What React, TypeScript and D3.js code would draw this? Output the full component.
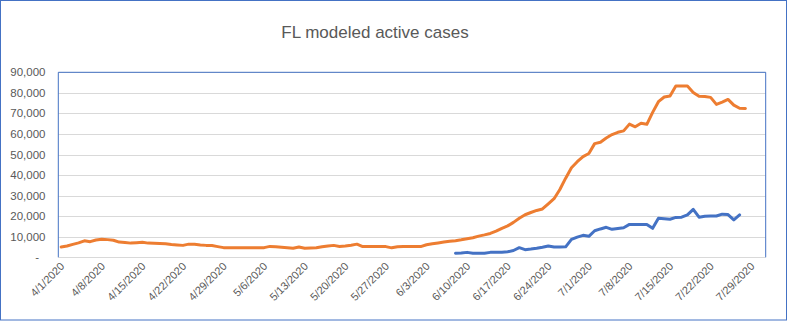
import React from "react";
import * as d3 from "d3";

const W = 788;
const H = 321;

const title = "FL modeled active cases";
const seriesStart = "4/1/2020";
const blueStart = "6/8/2020";

// Orange series: daily values from 4/1/2020
const orangeValues = [
  5000, 5500, 6300, 7000, 8000, 7600, 8400, 8800, 8600, 8300,
  7400, 7200, 6900, 7100, 7300, 6900, 6800, 6700, 6600, 6200,
  6000, 5800, 6400, 6300, 6000, 5800, 5700, 5200, 4700, 4700,
  4700, 4700, 4700, 4700, 4700, 4700, 5300, 5100, 4900, 4700,
  4400, 5000, 4400, 4500, 4600, 5100, 5500, 5800, 5300, 5500,
  5900, 6400, 5200, 5200, 5200, 5200, 5200, 4600, 5100, 5200,
  5200, 5200, 5200, 6100, 6600, 7000, 7400, 7800, 8100, 8500,
  9000, 9500, 10300, 10900, 11600, 12700, 14100, 15300, 17000, 19000,
  20700, 21800, 22800, 23500, 26000, 28500, 33000, 38500, 43600, 46500,
  49000, 50500, 55300, 56000, 58000, 59700, 60800, 61500, 64800, 63500,
  65200, 64700, 70500, 75700, 78000, 78500, 83300, 83300, 83300, 80200,
  78400, 78200, 77800, 74400, 75500, 76800, 74000, 72500, 72400,
];

// Blue series: daily values from 6/8/2020
const blueValues = [
  2000, 2100, 2400, 2000, 2000, 2000, 2400, 2400, 2500, 2700,
  3300, 4700, 3700, 4000, 4400, 4900, 5500, 5000, 5000, 5100,
  8700, 9800, 10700, 10200, 12900, 13800, 14600, 13600, 14000, 14400,
  16000, 16000, 16000, 16000, 14100, 19000, 18800, 18500, 19400, 19500,
  20600, 23300, 19500, 20000, 20100, 20100, 21000, 20800, 18200, 20600,
];

const yTicks = [0, 10000, 20000, 30000, 40000, 50000, 60000, 70000, 80000, 90000];
const xTickLabels = [
  "4/1/2020", "4/8/2020", "4/15/2020", "4/22/2020", "4/29/2020", "5/6/2020",
  "5/13/2020", "5/20/2020", "5/27/2020", "6/3/2020", "6/10/2020", "6/17/2020",
  "6/24/2020", "7/1/2020", "7/8/2020", "7/15/2020", "7/22/2020", "7/29/2020",
];

const parse = d3.timeParse("%m/%d/%Y");

function toSeries(start: string, vals: number[]) {
  const s = parse(start) as Date;
  return vals.map((v, i) => ({ date: d3.timeDay.offset(s, i), value: v }));
}

export default function App() {
  const left = 58.3;
  const right = 765.7;
  const top = 72.3;
  const bottom = 257.3;

  const x = d3
    .scaleTime()
    .domain([d3.timeHour.offset(parse("3/31/2020") as Date, 12), d3.timeHour.offset(parse("7/31/2020") as Date, 12)])
    .range([left, right]);
  const y = d3.scaleLinear().domain([0, 90000]).range([bottom, top]);

  const orange = toSeries(seriesStart, orangeValues);
  const blue = toSeries(blueStart, blueValues);

  const line = d3
    .line<{ date: Date; value: number }>()
    .x((d) => x(d.date))
    .y((d) => y(d.value));

  const fmt = d3.format(",");
  const font = "'Liberation Sans', Arial, sans-serif";

  return (
    <svg
      width={W}
      height={H}
      style={{ position: "absolute", left: 0, top: 0, background: "#fff" }}
      fontFamily={font}
    >
      <rect x={0.5} y={0.5} width={786} height={319.5} fill="#fff" stroke="#4472C4" strokeWidth={1} />
      <text x={375} y={38} textAnchor="middle" fontSize={17} fill="#595959">
        {title}
      </text>
      {yTicks.map((t) => (
        <g key={t}>
          <line x1={left} x2={right} y1={Math.round(y(t)) + 0.5} y2={Math.round(y(t)) + 0.5} stroke="#d9d9d9" strokeWidth={1} />
          <text
            x={t === 0 ? 39 : 45.5}
            y={y(t)}
            dy="0.35em"
            textAnchor="end"
            fontSize={11.5}
            fill="#595959"
          >
            {t === 0 ? "-" : fmt(t)}
          </text>
        </g>
      ))}
      <path
        d={`M${left},${bottom} L${left},${top} L${right},${top} L${right},${bottom}`}
        fill="none"
        stroke="#4472C4"
        strokeWidth={1}
      />
      {xTickLabels.map((l) => {
        const px = x(parse(l) as Date);
        return (
          <text
            key={l}
            transform={`translate(${px + 4},${267}) rotate(-45)`}
            textAnchor="end"
            fontSize={11}
            fill="#595959"
          >
            {l}
          </text>
        );
      })}
      <path d={line(orange) ?? ""} fill="none" stroke="#ED7D31" strokeWidth={3} strokeLinejoin="round" strokeLinecap="round" />
      <path d={line(blue) ?? ""} fill="none" stroke="#4472C4" strokeWidth={3} strokeLinejoin="round" strokeLinecap="round" />
    </svg>
  );
}
